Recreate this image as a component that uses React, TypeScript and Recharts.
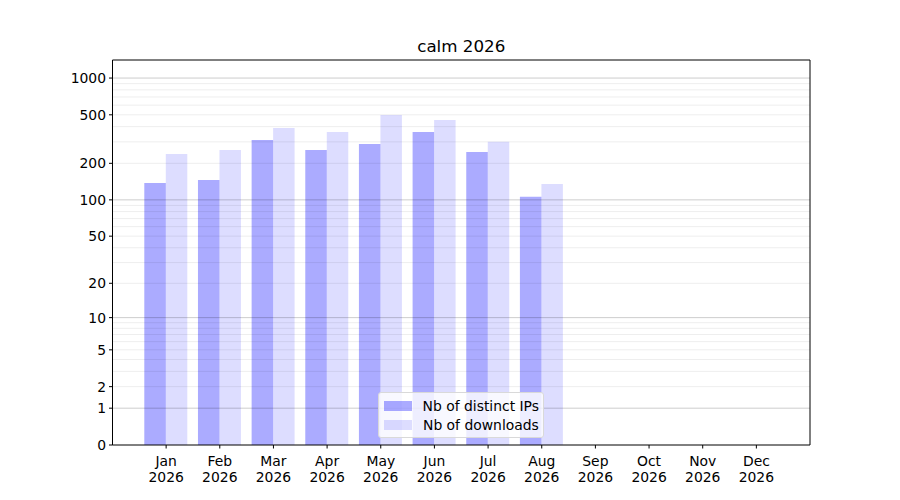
import { BarChart, Bar, XAxis, YAxis, ReferenceLine, Legend } from "recharts";

const months = ["Jan", "Feb", "Mar", "Apr", "May", "Jun", "Jul", "Aug", "Sep", "Oct", "Nov", "Dec"];
const year = "2026";
const distinctIps = [138, 146, 311, 257, 288, 362, 248, 106, 0, 0, 0, 0];
const downloads = [238, 257, 390, 362, 498, 453, 300, 135, 0, 0, 0, 0];
const yTickValues = [0, 1, 2, 5, 10, 20, 50, 100, 200, 500, 1000];
const majorGrid = [1, 10, 100, 1000];
const minorGrid = [2, 3, 4, 5, 6, 7, 8, 9, 20, 30, 40, 50, 60, 70, 80, 90, 200, 300, 400, 500, 600, 700, 800, 900];

// matplotlib-like log(1 + v) scale
const tf = (v: number) => Math.log10(v + 1);
const untf = (t: number) => Math.round(Math.pow(10, t) - 1);

const data = months.map((m, i) => ({
  m,
  ips: tf(distinctIps[i]),
  dl: tf(downloads[i]),
}));

const FONT = "'DejaVu Sans', sans-serif";

function MonthTick(props: any) {
  const { x, y, payload } = props;
  return (
    <g transform={`translate(${x},${y})`}>
      <text textAnchor="middle" fontSize={13.9} fontFamily={FONT} fill="#000">
        <tspan x={0} dy={14.5}>{payload.value}</tspan>
        <tspan x={0} dy={15.8}>{year}</tspan>
      </text>
    </g>
  );
}

function renderLegend(props: any) {
  const { payload } = props;
  return (
    <div
      style={{
        boxSizing: "border-box",
        background: "rgba(255,255,255,0.8)",
        border: "1px solid #d9d9d9",
        borderRadius: 3,
        padding: "3px 4px 3px 5px",
        fontFamily: FONT,
        fontSize: 13.9,
        width: 166,
        height: 46,
        whiteSpace: "nowrap",
      }}
    >
      {payload.map((p: any) => (
        <div key={p.value} style={{ display: "flex", alignItems: "center", height: 19.5 }}>
          <span
            style={{
              display: "inline-block",
              width: 28,
              height: 10,
              background: p.color,
              opacity: p.payload?.fillOpacity ?? 1,
              marginRight: 11,
            }}
          />
          <span style={{ color: "#000" }}>{p.value}</span>
        </div>
      ))}
    </div>
  );
}

export default function App() {
  const yMax = 3.148;
  return (
    <div style={{ position: "relative", width: 900, height: 500, marginLeft: -8, marginTop: -8, background: "#fff" }}>
      <div
        style={{
          position: "absolute",
          left: 112.5,
          width: 697.5,
          top: 36,
          textAlign: "center",
          fontFamily: FONT,
          fontSize: 16.7,
          color: "#000",
        }}
      >
        calm 2026
      </div>
      <BarChart
        width={900}
        height={500}
        data={data}
        margin={{ top: 59, right: 89, bottom: 15, left: 62.5 }}
        barGap={0}
        barSize={21.5}
      >
        <XAxis
          dataKey="m"
          padding={{ left: 26.8, right: 26.8 }}
          height={40}
          tick={<MonthTick />}
          tickSize={3.5}
          tickMargin={3}
          interval={0}
          axisLine={{ stroke: "#000", strokeWidth: 1 }}
          tickLine={{ stroke: "#000" }}
        />
        <XAxis
          xAxisId="top"
          dataKey="m"
          orientation="top"
          height={1}
          tick={false}
          tickLine={false}
          axisLine={{ stroke: "#000", strokeWidth: 1 }}
        />
        <YAxis
          type="number"
          domain={[0, yMax]}
          ticks={yTickValues.map(tf)}
          tickFormatter={(v: number) => String(untf(v))}
          interval={0}
          width={50}
          tickSize={3.5}
          tickMargin={3}
          tick={{ fill: "#000", fontSize: 13.9, fontFamily: FONT }}
          axisLine={{ stroke: "#000", strokeWidth: 1 }}
          tickLine={{ stroke: "#000" }}
          allowDataOverflow
        />
        <YAxis
          yAxisId="right"
          orientation="right"
          type="number"
          domain={[0, yMax]}
          width={1}
          tick={false}
          tickLine={false}
          axisLine={{ stroke: "#000", strokeWidth: 1 }}
        />
        {minorGrid.map((v) => (
          <ReferenceLine key={"n" + v} y={tf(v)} stroke="#000" strokeOpacity={0.07} strokeWidth={1} />
        ))}
        {majorGrid.map((v) => (
          <ReferenceLine key={"j" + v} y={tf(v)} stroke="#000" strokeOpacity={0.2} strokeWidth={1} />
        ))}
        <Bar dataKey="ips" name="Nb of distinct IPs" fill="#0000ff" fillOpacity={0.33} isAnimationActive={false} />
        <Bar dataKey="dl" name="Nb of downloads" fill="#0000ff" fillOpacity={0.135} isAnimationActive={false} />
        <Legend
          content={renderLegend}
          layout="horizontal"
          verticalAlign="middle"
          align="center"
          wrapperStyle={{ left: 378, top: 392, width: 166, height: 46 }}
        />
      </BarChart>
    </div>
  );
}
